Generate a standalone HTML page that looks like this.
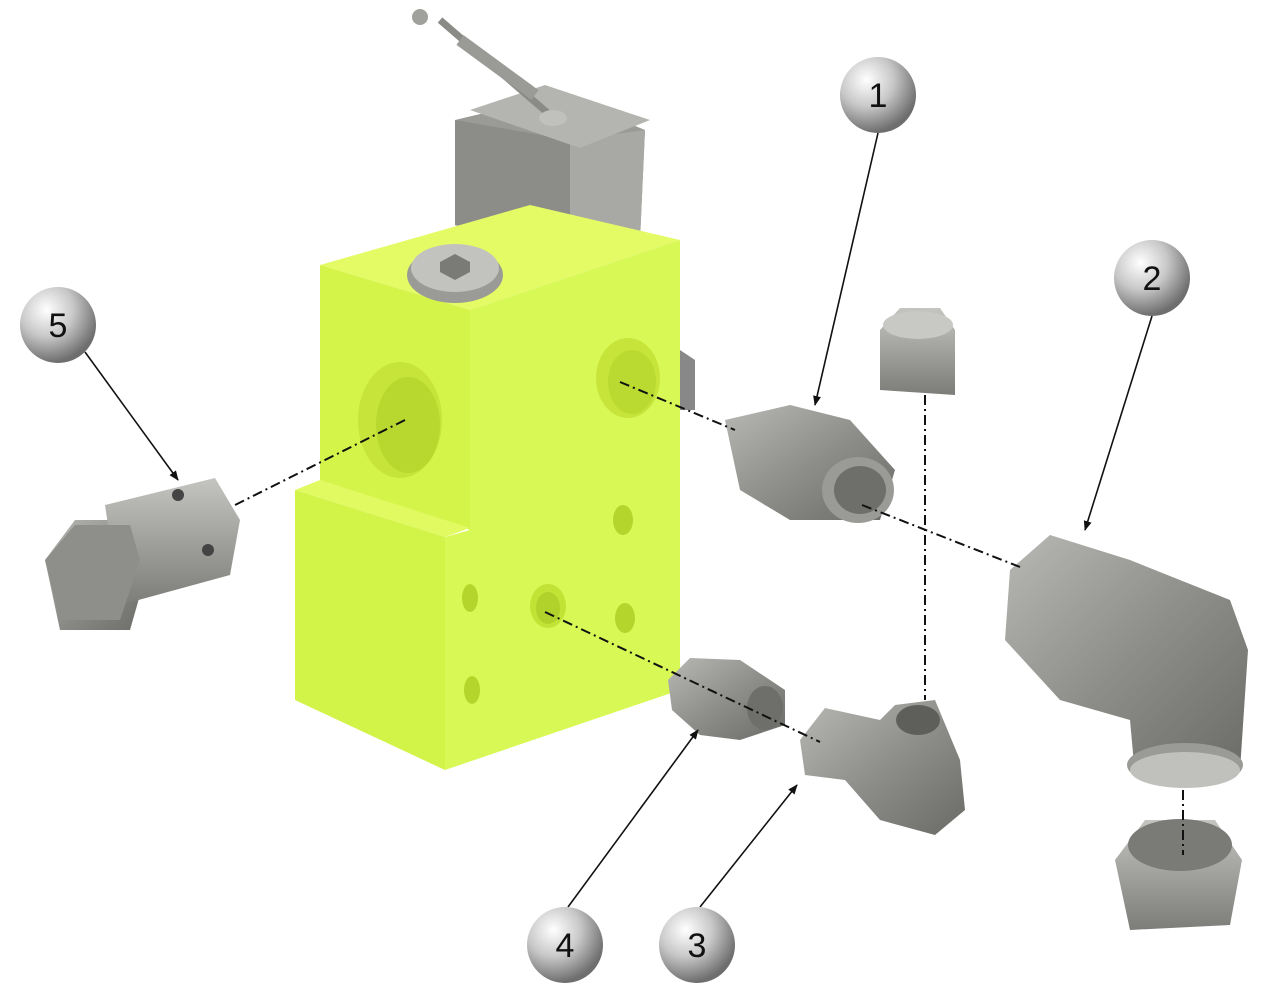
<!DOCTYPE html>
<html><head><meta charset="utf-8"><style>
html,body{margin:0;padding:0;background:#fff;}
svg{display:block;}
</style></head><body>
<svg width="1278" height="1001" viewBox="0 0 1278 1001" xmlns="http://www.w3.org/2000/svg">
<defs>
<radialGradient id="ball" cx="35%" cy="30%" r="70%">
<stop offset="0" stop-color="#ffffff"/><stop offset="0.5" stop-color="#c8c8c8"/><stop offset="1" stop-color="#6e6e6e"/>
</radialGradient>
<linearGradient id="steel" x1="0" y1="0" x2="1" y2="1">
<stop offset="0" stop-color="#b8b8b4"/><stop offset="0.5" stop-color="#8e8e8a"/><stop offset="1" stop-color="#6a6a66"/>
</linearGradient>
<linearGradient id="steel2" x1="0" y1="0" x2="0" y2="1">
<stop offset="0" stop-color="#c4c4c0"/><stop offset="1" stop-color="#7c7c78"/>
</linearGradient>
<marker id="ar" markerWidth="10" markerHeight="10" refX="9" refY="5" orient="auto" markerUnits="userSpaceOnUse">
<path d="M0,1 L10,5 L0,9 z" fill="#111"/></marker>
</defs>

<!-- valve block on top -->
<polygon points="455,120 560,95 645,130 640,240 570,258 455,225" fill="#9a9a96"/>
<polygon points="455,120 570,140 570,258 455,225" fill="#8c8c88"/>
<polygon points="570,140 645,130 640,240 570,258" fill="#a8a8a4"/>
<polygon points="470,110 545,85 650,120 580,148" fill="#b4b4b0"/>
<line x1="550" y1="115" x2="440" y2="20" stroke="#8a8a86" stroke-width="7"/>
<line x1="460" y1="40" x2="535" y2="95" stroke="#9a9a96" stroke-width="12"/>
<circle cx="420" cy="17" r="8" fill="#a0a09c"/>
<ellipse cx="553" cy="118" rx="14" ry="8" fill="#c0c0bc"/>

<!-- yellow body -->
<polygon points="320,265 530,205 680,240 470,310" fill="#e4fb66"/>
<polygon points="320,265 470,310 470,530 320,480" fill="#d4f44a"/>
<polygon points="295,490 320,480 470,528 445,537" fill="#e2fa62"/>
<polygon points="295,490 445,537 445,770 295,700" fill="#d2f348"/>
<polygon points="470,310 680,240 680,690 445,770 445,537 470,530" fill="#d8f856"/>
<!-- holes -->
<ellipse cx="400" cy="420" rx="42" ry="58" fill="#c6e43a"/>
<ellipse cx="408" cy="425" rx="32" ry="48" fill="#b8d830"/>
<ellipse cx="628" cy="378" rx="32" ry="40" fill="#c6e43a"/>
<ellipse cx="632" cy="382" rx="24" ry="32" fill="#bada32"/>
<polygon points="680,350 695,360 695,410 680,410" fill="#888"/>
<ellipse cx="623" cy="520" rx="10" ry="15" fill="#b4d62c"/>
<ellipse cx="625" cy="618" rx="10" ry="15" fill="#b4d62c"/>
<ellipse cx="548" cy="606" rx="18" ry="22" fill="#c2e236"/>
<ellipse cx="548" cy="608" rx="12" ry="16" fill="#b0d22a"/>
<ellipse cx="470" cy="598" rx="8" ry="14" fill="#b4d62c"/>
<ellipse cx="472" cy="690" rx="8" ry="14" fill="#b4d62c"/>
<!-- top screw -->
<ellipse cx="455" cy="275" rx="48" ry="28" fill="#9a9a96"/>
<ellipse cx="455" cy="268" rx="44" ry="24" fill="#c2c2be"/>
<polygon points="440,262 455,254 470,262 470,272 455,280 440,272" fill="#7a7a76"/>

<!-- part 5 plug -->
<polygon points="45,560 75,520 135,520 150,560 130,630 60,630" fill="url(#steel)"/>
<polygon points="105,505 215,478 240,520 230,575 120,605" fill="url(#steel2)"/>
<circle cx="178" cy="495" r="6" fill="#444"/><circle cx="208" cy="550" r="6" fill="#444"/>
<polygon points="45,560 75,525 130,525 140,560 120,620 60,620" fill="#8e8e8a"/>

<!-- part 1 -->
<polygon points="725,420 790,405 850,420 895,470 880,520 790,520 740,490" fill="url(#steel)"/>
<ellipse cx="858" cy="490" rx="36" ry="33" fill="#9a9a96"/>
<ellipse cx="860" cy="490" rx="26" ry="24" fill="#6e6e6a"/>
<!-- cap -->
<polygon points="880,330 900,308 940,308 955,330 955,395 880,390" fill="url(#steel2)"/>
<ellipse cx="918" cy="325" rx="35" ry="14" fill="#c8c8c4"/>

<!-- part 2 elbow -->
<polygon points="1010,570 1050,535 1130,560 1230,600 1248,650 1240,770 1135,775 1130,720 1060,700 1005,640" fill="url(#steel)"/>
<ellipse cx="1185" cy="765" rx="58" ry="22" fill="#9a9a96"/>
<ellipse cx="1185" cy="770" rx="55" ry="18" fill="#c0c0bc"/>
<!-- nut -->
<polygon points="1115,860 1145,820 1215,820 1242,860 1230,925 1130,930" fill="url(#steel2)"/>
<ellipse cx="1180" cy="845" rx="52" ry="26" fill="#7a7a76"/>

<!-- part 4 -->
<polygon points="668,680 690,658 740,660 785,690 785,725 740,740 700,735 672,710" fill="url(#steel)"/>
<ellipse cx="765" cy="708" rx="18" ry="22" fill="#6e6e6a"/>
<!-- part 3 -->
<polygon points="800,740 825,708 880,720 895,705 935,700 960,760 965,810 935,835 880,820 845,780 805,775" fill="url(#steel)"/>
<ellipse cx="918" cy="720" rx="22" ry="15" fill="#5e5e5a"/>

<!-- axis lines -->
<g stroke="#111" stroke-width="2" stroke-dasharray="10,4,2,4" fill="none">
<line x1="405" y1="420" x2="235" y2="505"/>
<line x1="620" y1="382" x2="735" y2="430"/>
<line x1="862" y1="505" x2="1020" y2="567"/>
<line x1="925" y1="395" x2="925" y2="700"/>
<line x1="545" y1="612" x2="820" y2="742"/>
<line x1="1183" y1="790" x2="1183" y2="855"/>
</g>

<!-- leaders -->
<g stroke="#111" stroke-width="1.6" marker-end="url(#ar)">
<line x1="878" y1="133" x2="815" y2="405"/>
<line x1="1152" y1="316" x2="1085" y2="530"/>
<line x1="85" y1="352" x2="178" y2="480"/>
<line x1="568" y1="907" x2="698" y2="730"/>
<line x1="700" y1="907" x2="797" y2="785"/>
</g>

<!-- balloons -->
<g font-family="Liberation Sans, sans-serif" font-size="34" text-anchor="middle" fill="#111">
<circle cx="878" cy="95" r="38" fill="url(#ball)"/><text x="878" y="107">1</text>
<circle cx="1152" cy="278" r="38" fill="url(#ball)"/><text x="1152" y="290">2</text>
<circle cx="58" cy="325" r="38" fill="url(#ball)"/><text x="58" y="337">5</text>
<circle cx="565" cy="945" r="38" fill="url(#ball)"/><text x="565" y="957">4</text>
<circle cx="697" cy="945" r="38" fill="url(#ball)"/><text x="697" y="957">3</text>
</g>
</svg>
</body></html>
